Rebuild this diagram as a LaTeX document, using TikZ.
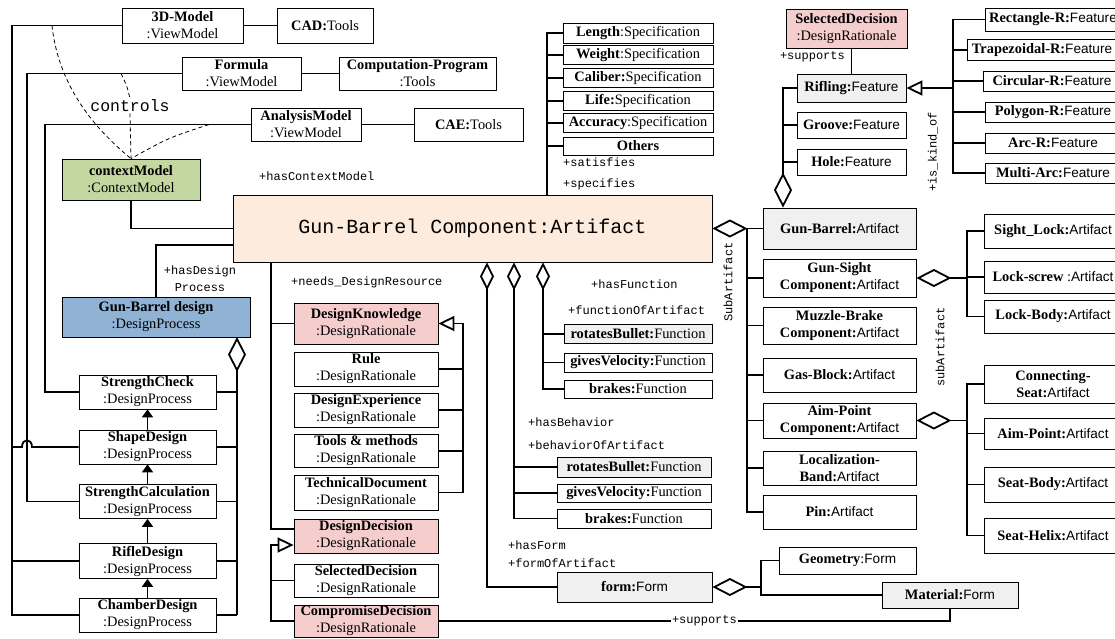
\documentclass[tikz,border=0pt]{standalone}
\usepackage{fontspec}
\setmainfont{Liberation Serif}
\setsansfont{Liberation Sans}
\setmonofont{Liberation Mono}
\usetikzlibrary{arrows.meta}

\definecolor{ratpink}{RGB}{246,205,205}
\definecolor{ctxgreen}{RGB}{196,215,160}
\definecolor{procblue}{RGB}{143,178,213}
\definecolor{partgray}{RGB}{240,240,240}
\definecolor{artpeach}{RGB}{253,236,222}

\newcommand{\sfcls}[1]{{\sffamily\fontsize{13.6}{17}\selectfont #1}}

\tikzset{
  obj/.style={draw, line width=0.8pt, align=center, inner sep=0pt, font=\fontsize{14.4}{17}\selectfont},
  lbl/.style={inner sep=1pt, font=\ttfamily\fontsize{12}{17}\selectfont},
  link/.style={line width=1.8pt},
  aggh/.style={link, {Diamond[open,length=35pt,width=18pt]}-},
  aggs/.style={link, {Diamond[open,length=28pt,width=14pt]}-},
  inh/.style={link, -{Triangle[open,length=16pt,width=15pt]}},
  seq/.style={link, -{Triangle[length=8pt,width=11pt]}},
  ctrl/.style={line width=0.8pt, dash pattern=on 4pt off 3pt}
}

\begin{document}
\begin{tikzpicture}[x=1pt,y=-1pt]
  \useasboundingbox (0,0) rectangle (1115,638);
  \clip (0,0) rectangle (1115,638);

  \node[obj, minimum width=121, minimum height=35] (m3d) at (182.5,25.5) {\textbf{3D-Model}\\:ViewModel};
  \node[obj, minimum width=96, minimum height=35] (cad) at (325,25.5) {\textbf{CAD:}Tools};
  \node[obj, minimum width=119, minimum height=33] (formula) at (241.5,73.5) {\textbf{Formula}\\:ViewModel};
  \node[obj, minimum width=157, minimum height=33] (comp) at (417.5,73.5) {\textbf{Computation-Program}\\:Tools};
  \node[obj, minimum width=110, minimum height=33] (anal) at (306,124.5) {\textbf{AnalysisModel}\\:ViewModel};
  \node[obj, minimum width=109, minimum height=33] (cae) at (468.5,124.5) {\textbf{CAE:}Tools};
  \node[obj, fill=ctxgreen, minimum width=138, minimum height=41] (ctx) at (131,179.5) {\textbf{contextModel}\\:ContextModel};
  \node[obj, fill=artpeach, minimum width=479, minimum height=67, font=\ttfamily\fontsize{20}{24}\selectfont] (main) at (472.5,228.5) {Gun-Barrel Component:Artifact};

  \node[obj, fill=procblue, minimum width=188, minimum height=40] (gbd) at (156,317) {\textbf{Gun-Barrel design}\\:DesignProcess};
  \node[obj, minimum width=137, minimum height=34] (sc) at (147.5,392) {\textbf{StrengthCheck}\\:DesignProcess};
  \node[obj, minimum width=137, minimum height=34] (sd) at (147.5,447) {\textbf{ShapeDesign}\\:DesignProcess};
  \node[obj, minimum width=137, minimum height=34] (scal) at (147.5,501.5) {\textbf{StrengthCalculation}\\:DesignProcess};
  \node[obj, minimum width=137, minimum height=35] (rd) at (147.5,561) {\textbf{RifleDesign}\\:DesignProcess};
  \node[obj, minimum width=137, minimum height=34] (cd) at (147.5,615) {\textbf{ChamberDesign}\\:DesignProcess};

  \node[obj, fill=ratpink, minimum width=144, minimum height=41] (dk) at (366,323.5) {\textbf{DesignKnowledge}\\:DesignRationale};
  \node[obj, minimum width=144, minimum height=34] (rule) at (366,369) {\textbf{Rule}\\:DesignRationale};
  \node[obj, minimum width=144, minimum height=34] (dexp) at (366,410) {\textbf{DesignExperience}\\:DesignRationale};
  \node[obj, minimum width=144, minimum height=33] (tools) at (366,451) {\textbf{Tools \& methods}\\:DesignRationale};
  \node[obj, minimum width=144, minimum height=35] (tdoc) at (366,492.5) {\textbf{TechnicalDocument}\\:DesignRationale};
  \node[obj, fill=ratpink, minimum width=144, minimum height=34] (ddec) at (366,536) {\textbf{DesignDecision}\\:DesignRationale};
  \node[obj, minimum width=144, minimum height=33] (sdec) at (366,580.5) {\textbf{SelectedDecision}\\:DesignRationale};
  \node[obj, fill=ratpink, minimum width=144, minimum height=32] (cdec) at (366,621) {\textbf{CompromiseDecision}\\:DesignRationale};

  \node[obj, minimum width=150, minimum height=20] (len) at (638,33) {\textbf{Length}:Specification};
  \node[obj, minimum width=150, minimum height=19] (wt) at (638,55) {\textbf{Weight}:Specification};
  \node[obj, minimum width=150, minimum height=19] (cal) at (638,78) {\textbf{Caliber:}Specification};
  \node[obj, minimum width=150, minimum height=19] (life) at (638,101) {\textbf{Life:}Specification};
  \node[obj, minimum width=150, minimum height=19] (acc) at (638,123) {\textbf{Accuracy}:Specification};
  \node[obj, minimum width=150, minimum height=18] (oth) at (638,146) {\textbf{Others}};

  \node[obj, fill=partgray, minimum width=148, minimum height=19] (rb1) at (638,334) {\textbf{rotatesBullet:}Function};
  \node[obj, minimum width=148, minimum height=19] (gv1) at (638,362.5) {\textbf{givesVelocity:}Function};
  \node[obj, minimum width=148, minimum height=18] (br1) at (638,389) {\textbf{brakes:}Function};
  \node[obj, fill=partgray, minimum width=154, minimum height=20] (rb2) at (634,467) {\textbf{rotatesBullet:}Function};
  \node[obj, minimum width=154, minimum height=18] (gv2) at (634,493) {\textbf{givesVelocity:}Function};
  \node[obj, minimum width=154, minimum height=19] (br2) at (634,518.5) {\textbf{brakes:}Function};
  \node[obj, fill=partgray, minimum width=155, minimum height=30] (form) at (634.5,587) {\textbf{form:}\sfcls{Form}};
  \node[obj, minimum width=137, minimum height=27] (geo) at (847.5,560.5) {\textbf{Geometry}:\sfcls{Form}};
  \node[obj, fill=partgray, minimum width=136, minimum height=26] (mat) at (950,595) {\textbf{Material:}\sfcls{Form}};

  \node[obj, fill=ratpink, minimum width=121, minimum height=39] (sdtop) at (846.5,28.5) {\textbf{SelectedDecision}\\:DesignRationale};
  \node[obj, fill=partgray, minimum width=109, minimum height=28] (rif) at (851.5,88) {\textbf{Rifling:}\sfcls{Feature}};
  \node[obj, minimum width=109, minimum height=26] (grv) at (851.5,125) {\textbf{Groove:}\sfcls{Feature}};
  \node[obj, minimum width=109, minimum height=26] (hole) at (851.5,162) {\textbf{Hole:}\sfcls{Feature}};
  \node[obj, minimum width=136, minimum height=23] (rect) at (1053,19.5) {\textbf{Rectangle-R:}\sfcls{Feature}};
  \node[obj, minimum width=150, minimum height=21] (trap) at (1042,50) {\textbf{Trapezoidal-R:}\sfcls{Feature}};
  \node[obj, minimum width=138, minimum height=20] (circ) at (1052,81) {\textbf{Circular-R:}\sfcls{Feature}};
  \node[obj, minimum width=136, minimum height=20] (poly) at (1053,112) {\textbf{Polygon-R:}\sfcls{Feature}};
  \node[obj, minimum width=136, minimum height=20] (arcr) at (1053,143) {\textbf{Arc-R:}\sfcls{Feature}};
  \node[obj, minimum width=136, minimum height=20] (multi) at (1053,173) {\textbf{Multi-Arc:}\sfcls{Feature}};

  \node[obj, fill=partgray, minimum width=153, minimum height=41] (gb) at (839.5,228.5) {\textbf{Gun-Barrel:}\sfcls{Artifact}};
  \node[obj, minimum width=153, minimum height=38] (gs) at (839.5,278) {\textbf{Gun-Sight}\\\textbf{Component:}\sfcls{Artifact}};
  \node[obj, minimum width=153, minimum height=37] (mb) at (839.5,325.5) {\textbf{Muzzle-Brake}\\\textbf{Component:}\sfcls{Artifact}};
  \node[obj, minimum width=153, minimum height=34] (gasb) at (839.5,375) {\textbf{Gas-Block:}\sfcls{Artifact}};
  \node[obj, minimum width=153, minimum height=35] (apc) at (839.5,420.5) {\textbf{Aim-Point}\\\textbf{Component:}\sfcls{Artifact}};
  \node[obj, minimum width=153, minimum height=34] (lb) at (839.5,468) {\textbf{Localization-}\\\textbf{Band:}\sfcls{Artifact}};
  \node[obj, minimum width=153, minimum height=34] (pin) at (839.5,512) {\textbf{Pin:}\sfcls{Artifact}};

  \node[obj, minimum width=138, minimum height=34] (slock) at (1053,231) {\textbf{Sight\_Lock:}\sfcls{Artifact}};
  \node[obj, minimum width=138, minimum height=32] (lscrew) at (1053,277) {\textbf{Lock-screw} :\sfcls{Artifact}};
  \node[obj, minimum width=138, minimum height=33] (lbody) at (1053,316.5) {\textbf{Lock-Body:}\sfcls{Artifact}};
  \node[obj, minimum width=138, minimum height=38] (cseat) at (1053,384) {\textbf{Connecting-}\\\textbf{Seat:}\sfcls{Artifact}};
  \node[obj, minimum width=138, minimum height=31] (aimp) at (1053,433.5) {\textbf{Aim-Point:}\sfcls{Artifact}};
  \node[obj, minimum width=138, minimum height=35] (sbody) at (1053,484.5) {\textbf{Seat-Body:}\sfcls{Artifact}};
  \node[obj, minimum width=138, minimum height=35] (shelix) at (1053,535.5) {\textbf{Seat-Helix:}\sfcls{Artifact}};

  \node[lbl, anchor=west] (hcm) at (258,176) {+hasContextModel};
  \node[lbl, align=center] (hdp) at (200,278.5) {+hasDesign\\Process};
  \node[lbl, anchor=west] (ndr) at (290,282) {+needs\_DesignResource};
  \node[lbl, anchor=west] (sat) at (562,162) {+satisfies};
  \node[lbl, anchor=west] (spe) at (562,184) {+specifies};
  \node[lbl, anchor=west] (hf) at (590,284) {+hasFunction};
  \node[lbl, anchor=west] (foa) at (567,310) {+functionOfArtifact};
  \node[lbl, anchor=west] (hb) at (527,422) {+hasBehavior};
  \node[lbl, anchor=west] (boa) at (527,445) {+behaviorOfArtifact};
  \node[lbl, anchor=west] (hfo) at (507,545) {+hasForm};
  \node[lbl, anchor=west] (ffa) at (507,563) {+formOfArtifact};
  \node[lbl, anchor=east] (sup1) at (846,57) {+supports};
  \node[lbl, rotate=90] (kind) at (933,152) {+is\_kind\_of};
  \node[lbl, rotate=90] (suba) at (728,282) {SubArtifact};
  \node[lbl, rotate=90] (subb) at (940,347) {subArtifact};
  \node[lbl, font=\ttfamily\fontsize{16.5}{20}\selectfont] (ctrl) at (130,106) {controls};

  \draw[link] (m3d) -- (cad);
  \draw[link] (formula) -- (comp);
  \draw[link] (anal) -- (cae);
  \draw[link] (m3d.west) -| (cd.west -| 12,0) -- (cd.west);
  \draw[link] (rd.west) -- (rd.west -| 12,0);
  \draw[link] (sd.west) -- (sd.west -| 32,0) .. controls +(0,-9) and +(0,-9) .. (sd.west -| 22,0) -- (sd.west -| 12,0);
  \draw[link] (formula.west) -| (scal.west -| 27,0) -- (scal.west);
  \draw[link] (anal.west) -| (sc.west -| 45,0) -- (sc.west);

  \coordinate (c1) at (52,25.5);
  \coordinate (c2) at (121,73.5);
  \coordinate (c3) at (209,124.5);
  \draw[ctrl] (c1) .. controls (58,82) and (90,125) .. (ctx.north);
  \draw[ctrl] (c2) .. controls (127,86) .. (ctrl.north) (ctrl.south) -- (ctx.north);
  \draw[ctrl] (c3) .. controls (168,138) .. (ctx.north);

  \draw[link] (ctx.south) |- (main.west);
  \draw[link] (gbd.north) |- (main.west |- 0,245);

  \coordinate (pj) at (237,337);
  \draw[aggh] (pj) -- (cd.east -| pj);
  \foreach \n in {sc,sd,scal,rd,cd}
    \draw[link] (\n.east) -- (\n.east -| pj);
  \foreach \a/\b in {cd/rd,rd/scal,scal/sd,sd/sc}
    \draw[seq] (\a.north) -- (\b.south);

  \draw[link] (main.south -| 271,0) |- (ddec.west |- 0,529);
  \draw[link] (dk.west) -- (dk.west -| 271,0);
  \draw[inh] (tdoc.east) -| (tdoc.east -| 463,0) |- (dk.east);
  \foreach \n in {rule,dexp,tools}
    \draw[link] (\n.east) -- (\n.east -| 463,0);
  \draw[inh] (cdec.west) -| (271,545) -- (ddec.west |- 0,545);
  \draw[link] (sdec.west) -- (sdec.west -| 271,0);
  \draw[link] (cdec.east) -| (mat.south) node[lbl, pos=0.26, fill=white] (sup2) {+supports};

  \draw[link] (len.west) -| (main.north -| 547,0);
  \foreach \n in {wt,cal,life,acc,oth}
    \draw[link] (\n.west) -- (\n.west -| 547,0);

  \draw[aggs] (main.south -| 543,0) |- (br1.west);
  \foreach \n in {rb1,gv1}
    \draw[link] (\n.west) -- (\n.west -| 543,0);
  \draw[aggs] (main.south -| 514,0) |- (br2.west);
  \foreach \n in {rb2,gv2}
    \draw[link] (\n.west) -- (\n.west -| 514,0);
  \draw[aggs] (main.south -| 487,0) |- (form.west);
  \coordinate (fmj) at (761,587);
  \draw[aggh] (form.east) -- (fmj);
  \draw[link] (geo.west) -| (fmj) |- (mat.west);

  \draw[link] (sdtop.south -| rif.north) -- (rif.north);
  \draw[aggh] (gb.north -| 783,0) |- (rif.west);
  \foreach \n in {grv,hole}
    \draw[link] (\n.west) -- (\n.west -| 783,0);
  \coordinate (kj) at (953,88);
  \draw[inh] (kj) -- (rif.east);
  \draw[link] (rect.west) -| (kj) |- (multi.west);
  \foreach \n in {trap,circ,poly,arcr}
    \draw[link] (\n.west) -- (\n.west -| kj);

  \coordinate (sa) at (747,228.5);
  \draw[aggh] (main.east) -- (sa);
  \draw[link] (gb.west) -- (sa) |- (pin.west);
  \foreach \n in {gs,mb,gasb,apc,lb}
    \draw[link] (\n.west) -- (\n.west -| sa);

  \coordinate (sj) at (967,278);
  \draw[aggh] (gs.east) -- (sj);
  \draw[link] (slock.west) -| (sj) |- (lbody.west);
  \draw[link] (lscrew.west) -- (lscrew.west -| sj);
  \coordinate (aj) at (967,420.5);
  \draw[aggh] (apc.east) -- (aj);
  \draw[link] (cseat.west) -| (aj) |- (shelix.west);
  \foreach \n in {aimp,sbody}
    \draw[link] (\n.west) -- (\n.west -| aj);
\end{tikzpicture}
\end{document}
